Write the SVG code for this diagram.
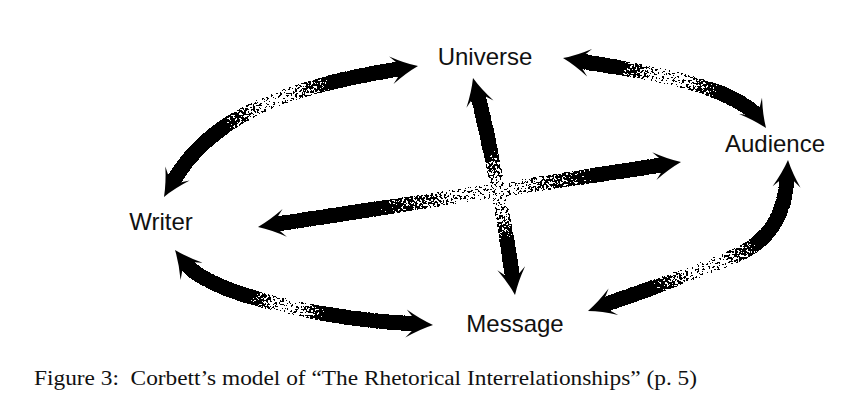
<svg xmlns="http://www.w3.org/2000/svg" xmlns:xlink="http://www.w3.org/1999/xlink" width="857" height="418" viewBox="0 0 857 418">
<defs>
<style>
.lbl{font-family:"Liberation Sans",Arial,Helvetica,sans-serif;font-size:24px;fill:#111;text-anchor:middle}
.cap{font-family:"Liberation Serif","Times New Roman",serif;font-size:21px;fill:#111}
.shaft{fill:none;stroke-width:15;stroke-linecap:butt;filter:url(#stip)}
.head{fill:#000}
</style>
<linearGradient id="gs">
<stop offset="0" stop-color="#000" stop-opacity="1"/>
<stop offset="0.1" stop-color="#000" stop-opacity="0.55"/>
<stop offset="0.22" stop-color="#000" stop-opacity="0.45"/>
<stop offset="0.35" stop-color="#000" stop-opacity="0.37"/>
<stop offset="0.5" stop-color="#000" stop-opacity="0.345"/>
<stop offset="0.65" stop-color="#000" stop-opacity="0.37"/>
<stop offset="0.78" stop-color="#000" stop-opacity="0.45"/>
<stop offset="0.9" stop-color="#000" stop-opacity="0.55"/>
<stop offset="1" stop-color="#000" stop-opacity="1"/>
</linearGradient>
<linearGradient id="g1" href="#gs" xlink:href="#gs" gradientUnits="userSpaceOnUse" x1="222" y1="130" x2="335" y2="82"/>
<linearGradient id="g2" href="#gs" xlink:href="#gs" gradientUnits="userSpaceOnUse" x1="615" y1="66" x2="722" y2="96"/>
<linearGradient id="g3" href="#gs" xlink:href="#gs" gradientUnits="userSpaceOnUse" x1="755" y1="232" x2="650" y2="292"/>
<linearGradient id="g4" href="#gs" xlink:href="#gs" gradientUnits="userSpaceOnUse" x1="248" y1="300" x2="325" y2="320"/>
<linearGradient id="g5" href="#gs" xlink:href="#gs" gradientUnits="userSpaceOnUse" x1="372" y1="210" x2="600" y2="175"/>
<linearGradient id="g6" href="#gs" xlink:href="#gs" gradientUnits="userSpaceOnUse" x1="486" y1="148" x2="508" y2="245"/>
<filter id="stip" filterUnits="userSpaceOnUse" x="0" y="0" width="857" height="418" color-interpolation-filters="sRGB">
<feTurbulence type="fractalNoise" baseFrequency="0.45" numOctaves="2" seed="7" result="t"/>
<feColorMatrix in="t" type="matrix" values="0 0 0 0 0  0 0 0 0 0  0 0 0 0 0  2 0 0 0 -0.5" result="n"/>
<feComposite in="SourceAlpha" in2="n" operator="arithmetic" k1="2" k2="1" k3="0" k4="-0.35" result="m"/>
<feComponentTransfer in="m"><feFuncA type="discrete" tableValues="0 1"/></feComponentTransfer>
</filter>
<path id="hd" class="head" d="M0,0 Q-13,-5 -27,-14 L-19,-5 L-19,5 L-27,14 Q-13,5 0,0 Z"/>
</defs>
<rect width="857" height="418" fill="#fff"/>
<g id="connectors">
<g id="writer-universe">
<path class="shaft" stroke="url(#g1)" d="M172.5,182.3 C212.5,113 292.5,85.9 401.2,68.7"/>
<use href="#hd" xlink:href="#hd" transform="translate(164,197) rotate(120)"/>
<use href="#hd" xlink:href="#hd" transform="translate(418,66) rotate(-9)"/>
</g>
<g id="universe-audience">
<path class="shaft" stroke="url(#g2)" d="M580,61 C648,73 720,82 756,114"/>
<use href="#hd" xlink:href="#hd" transform="translate(563,58) rotate(190)"/>
<use href="#hd" xlink:href="#hd" transform="translate(766,128) rotate(55)"/>
</g>
<g id="audience-message">
<path class="shaft" stroke="url(#g3)" d="M787,177 C785,215 770,237 745,251 C720,265 640,292 604,305"/>
<use href="#hd" xlink:href="#hd" transform="translate(788,160) rotate(-87)"/>
<use href="#hd" xlink:href="#hd" transform="translate(588,311) rotate(160)"/>
</g>
<g id="writer-message">
<path class="shaft" stroke="url(#g4)" d="M185.5,263.4 C210.1,294.9 326.1,319.4 416,324.1"/>
<use href="#hd" xlink:href="#hd" transform="translate(175,250) rotate(232)"/>
<use href="#hd" xlink:href="#hd" transform="translate(433,325) rotate(3)"/>
</g>
<g id="writer-audience">
<path class="shaft" stroke="url(#g5)" stroke-width="14" d="M274.8,224.4 L664.2,164.6"/>
<use href="#hd" xlink:href="#hd" transform="translate(258,227) rotate(171.26)"/>
<use href="#hd" xlink:href="#hd" transform="translate(681,162) rotate(-8.74)"/>
</g>
<g id="universe-message">
<path class="shaft" stroke="url(#g6)" d="M477.4,94.4 C490.4,142.7 505.7,228.7 512.6,278.2"/>
<use href="#hd" xlink:href="#hd" transform="translate(473,78) rotate(255)"/>
<use href="#hd" xlink:href="#hd" transform="translate(515,295) rotate(82)"/>
</g>
</g>
<g id="universe"><text class="lbl" x="485" y="64.5">Universe</text></g>
<g id="audience"><text class="lbl" x="775" y="152">Audience</text></g>
<g id="writer"><text class="lbl" x="161" y="230">Writer</text></g>
<g id="message"><text class="lbl" x="515" y="332">Message</text></g>
<g id="caption"><text class="cap" x="34" y="385" textLength="663" lengthAdjust="spacingAndGlyphs" xml:space="preserve">Figure 3:  Corbett’s model of “The Rhetorical Interrelationships” (p. 5)</text></g>
</svg>
